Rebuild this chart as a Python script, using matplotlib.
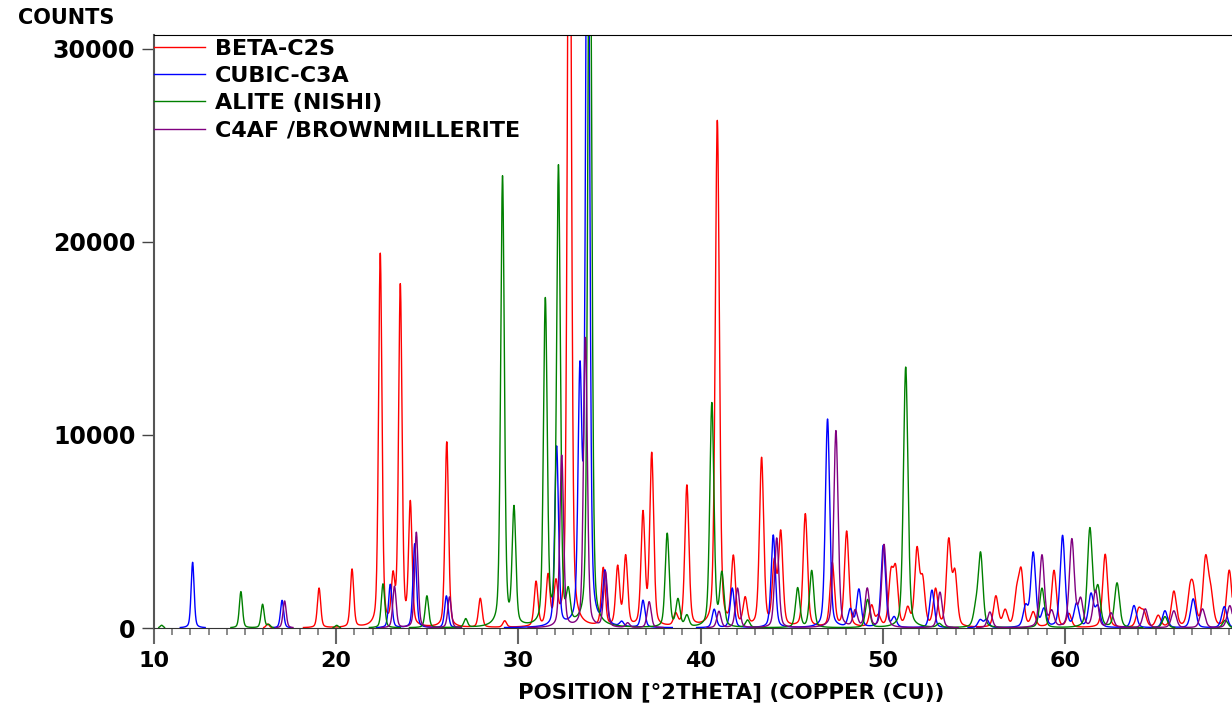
import numpy as np
import matplotlib
matplotlib.use("Agg")
import matplotlib.pyplot as plt
from matplotlib.ticker import MultipleLocator

# peak positions (deg 2theta) and heights (counts)
c2s_pos = [16.24, 19.06, 20.87, 22.42, 23.12, 23.52, 24.07, 26.07, 27.91, 29.25,
           30.97, 31.63, 32.06, 32.80, 34.66, 35.45, 35.89, 36.84, 37.32, 38.63,
           39.25, 40.92, 41.80, 42.45, 43.35, 44.05, 44.40, 45.75, 47.23, 48.02,
           49.39, 49.76, 50.45, 50.71, 51.37, 51.88, 52.19, 52.90, 53.62, 53.96,
           56.21, 56.72, 57.35, 57.60, 58.26, 59.40, 60.22, 62.21, 64.05, 64.33,
           65.12, 65.98, 66.86, 67.05, 67.72, 68.00, 69.02]
c2s_int = [200, 2050, 3000, 19300, 2300, 17600, 6300, 9600, 1500, 330,
           2300, 2550, 2000, 48000, 3000, 3050, 3600, 5800, 8900, 600,
           7300, 26200, 3500, 1400, 8700, 3200, 4800, 5850, 3300, 4950,
           1100, 550, 2600, 2800, 900, 3900, 2300, 1900, 4400, 2700,
           1600, 850, 1600, 2750, 750, 2950, 700, 3800, 900, 750,
           600, 1850, 1550, 1550, 3400, 1600, 2950]

c3a_pos = [12.12, 17.03, 22.97, 24.31, 26.05, 32.10, 33.38, 33.80, 34.75, 35.67,
           36.84, 40.75, 41.74, 43.99, 46.97, 48.22, 48.69, 50.03, 50.63, 52.70,
           55.35, 55.70, 57.84, 58.26, 58.85, 59.87, 60.64, 61.43, 61.80, 63.79,
           65.49, 67.04, 68.75]
c3a_int = [3400, 1430, 2250, 4350, 1650, 9300, 12500, 45000, 2700, 250,
           1400, 950, 2050, 4800, 10800, 900, 1950, 4250, 500, 1950,
           400, 420, 1050, 3850, 900, 4750, 1200, 1700, 1050, 1150,
           880, 1500, 1100]

alite_pos = [10.42, 14.77, 15.96, 16.30, 20.03, 22.57, 24.98, 27.11, 29.13, 29.76,
             31.48, 32.20, 32.74, 33.92, 38.17, 38.76, 39.25, 40.62, 41.17, 42.58,
             45.33, 46.10, 49.17, 51.26, 53.10, 55.10, 55.37, 58.74, 61.37, 61.81,
             62.86, 65.49, 68.80]
alite_int = [140, 1880, 1220, 150, 130, 2280, 1650, 440, 23300, 6000,
             16800, 23700, 1500, 42000, 4850, 1400, 580, 11600, 2700, 380,
             2050, 2950, 1450, 13500, 200, 850, 3800, 2050, 5100, 2000,
             2300, 580, 400]

c4af_pos = [17.17, 23.20, 24.40, 26.22, 32.38, 33.68, 34.78, 36.00, 37.18, 41.01,
            42.03, 44.18, 47.43, 48.49, 49.15, 50.07, 53.14, 55.88, 58.74, 59.27,
            60.38, 60.86, 61.68, 62.53, 64.41, 65.98, 67.55, 69.05]
c4af_int = [1400, 2150, 4950, 1600, 8900, 15000, 2850, 240, 1350, 850,
            2050, 4650, 10200, 850, 2000, 4300, 1850, 820, 3750, 800,
            4550, 1400, 1900, 750, 980, 880, 980, 1150]

phase_names = ["BETA-C2S", "CUBIC-C3A", "ALITE (NISHI)", "C4AF /BROWNMILLERITE"]
phase_colors = ["#ff0000", "#0000ff", "#008000", "#800080"]


def profile(x, pos, hts):
    y = np.zeros_like(x)
    for p, h in zip(pos, hts):
        w = 0.19 + 0.0025 * (p - 10)
        d = (x - p) / (w / 2)
        y += h * (0.35 / (1 + d ** 2) + 0.65 * np.exp(-np.log(2) * d ** 2))
    y[y < 25] = np.nan
    return y


tt = np.arange(10.0, 69.5, 0.01)
phases = [(c2s_pos, c2s_int), (c3a_pos, c3a_int), (alite_pos, alite_int), (c4af_pos, c4af_int)]

fig = plt.figure(figsize=(12.32, 7.07), dpi=100)
ax = fig.add_axes([154 / 1232, 79 / 707, 1078 / 1232, 593 / 707])

for (pos, hts), name, col in zip(phases, phase_names, phase_colors):
    ax.plot(tt, profile(tt, pos, hts), color=col, lw=1.0, label=name)

ax.set_xlim(10, 69.17)
ax.set_ylim(0, 30700)
ax.xaxis.set_major_locator(MultipleLocator(10))
ax.xaxis.set_minor_locator(MultipleLocator(1))
ax.set_yticks([0, 10000, 20000, 30000])

ax.spines["right"].set_visible(False)
ax.spines["top"].set_color("black")
ax.spines["left"].set_color("#555555")
ax.spines["left"].set_linewidth(1.5)
ax.spines["bottom"].set_color("#333333")

ax.tick_params(axis="x", which="major", length=11.5, width=1.5, color="#666666",
               pad=5, labelsize=16)
ax.tick_params(axis="x", which="minor", length=5, width=1.2, color="#777777")
ax.tick_params(axis="y", which="major", length=8.5, width=1.0, color="#444444",
               pad=5, labelsize=17)
for lab in ax.get_xticklabels() + ax.get_yticklabels():
    lab.set_fontweight("bold")

leg = ax.legend(loc="upper left", bbox_to_anchor=(0, 0.994), frameon=False,
                borderaxespad=0, borderpad=0.0, handlelength=2.3,
                handletextpad=0.45, labelspacing=0.33,
                prop={"weight": "bold", "size": 16})

fig.text(18 / 1232, 1 - 18 / 707, "COUNTS", fontsize=15, fontweight="bold",
         ha="left", va="center")
fig.text(731 / 1232, 1 - 692 / 707, "POSITION [°2THETA] (COPPER (CU))",
         fontsize=15.3, fontweight="bold", ha="center", va="center")

fig.savefig("out.png", dpi=100)
